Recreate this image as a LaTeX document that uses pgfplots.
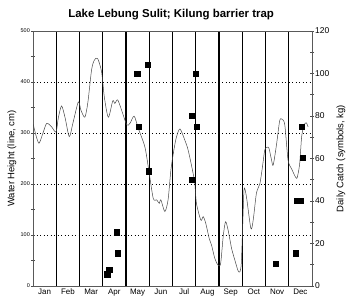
\documentclass[border=0pt]{standalone}
\usepackage{fontspec}
\setmainfont{Liberation Sans}
\usepackage{pgfplots}
\pgfplotsset{compat=1.18}
\begin{document}
\begin{tikzpicture}
\path[use as bounding box] (-33bp,-16bp) rectangle (317bp,286bp);
\begin{axis}[
  at={(0,0)}, anchor=south west,
  scale only axis, width=279bp, height=255bp,
  xmin=0, xmax=12, ymin=0, ymax=500,
  /pgf/number format/assume math mode=true,
  axis line style={gray!70!black, line width=0.5bp},
  xtick={0.5,1.5,...,11.5},
  xticklabels={Jan,Feb,Mar,Apr,May,Jun,Jul,Aug,Sep,Oct,Nov,Dec},
  minor xtick={1,2,...,11},
  xtick style={draw=none},
  xminorgrids=true,
  minor x grid style={black, line width=1.1bp},
  xticklabel style={font=\fontsize{8}{9}\selectfont, inner sep=1bp},
  ytick={0,100,...,500},
  minor ytick={50,150,...,450},
  ytick pos=left,
  tick align=center,
  major tick length=4bp, minor tick length=4bp,
  ytick style={gray!60!black, line width=0.5bp},
  ymajorgrids=true,
  major y grid style={black, line width=0.8bp, dash pattern=on 1.2bp off 2.3bp},
  yticklabel style={font=\fontsize{5.5}{6}\selectfont, inner sep=1bp},
  ylabel={Water Height (line, cm)},
  ylabel style={font=\fontsize{9.5}{10}\selectfont, at={(rel axis cs:0,0.5)}, anchor=center, rotate=0, yshift=21bp},
  title={Lake Lebung Sulit; Kilung barrier trap},
  title style={font=\bfseries\fontsize{11.5}{12}\selectfont, at={(rel axis cs:0.495,1)}, anchor=center, yshift=10bp},
]
\addplot[gray!55!black, line width=0.5bp, smooth, tension=0.45] coordinates {
(0.01,317)(0.13,295)(0.26,280)(0.43,300)(0.59,319)(0.80,312)(0.99,302)(1.09,330)(1.23,353)(1.38,330)(1.56,293)(1.72,320)(1.95,361)(2.06,345)(2.23,331)(2.36,360)(2.52,424)(2.64,443)(2.78,446)(2.95,420)(3.07,370)(3.24,331)(3.43,363)(3.52,358)(3.64,365)(3.81,345)(4.03,316)(4.17,319)(4.35,333)(4.53,309)(4.81,273)(4.97,230)(5.17,172)(5.32,169)(5.43,162)(5.50,169)(5.67,146)(5.81,169)(5.93,227)(6.06,267)(6.17,292)(6.32,308)(6.53,286)(6.67,267)(6.86,227)(6.96,201)(7.03,162)(7.22,129)(7.32,136)(7.43,123)(7.58,93)(7.68,80)(7.82,54)(7.96,41)(8.07,44)(8.18,97)(8.28,126)(8.39,110)(8.54,74)(8.68,51)(8.82,30)(8.90,28)(8.96,45)(9.02,120)(9.08,190)(9.18,175)(9.37,113)(9.47,129)(9.61,182)(9.76,201)(9.87,234)(9.97,267)(10.07,272)(10.15,270)(10.26,247)(10.33,237)(10.47,276)(10.61,324)(10.71,327)(10.83,316)(10.97,247)(11.12,230)(11.33,211)(11.41,222)(11.47,240)(11.51,265)(11.56,295)(11.66,316)(11.76,320)(11.83,312)
};
\end{axis}
\begin{axis}[
  at={(0,0)}, anchor=south west,
  scale only axis, width=279bp, height=255bp,
  xmin=0, xmax=12, ymin=0, ymax=120,
  /pgf/number format/assume math mode=true,
  axis x line=none,
  axis y line*=right,
  axis line style={gray!70!black, line width=0.5bp},
  ytick={0,20,...,120},
  minor ytick={10,30,...,110},
  tick align=center,
  major tick length=4bp, minor tick length=4bp,
  ytick style={gray!60!black, line width=0.5bp},
  yticklabel style={font=\fontsize{8.5}{9}\selectfont, inner sep=1bp},
  ylabel={Daily Catch (symbols, kg)},
  ylabel style={font=\fontsize{9.5}{10}\selectfont, at={(rel axis cs:1,0.5)}, anchor=center, rotate=0, yshift=-29bp},
]
\addplot[only marks, mark=square*, mark size=2.6bp, black] coordinates {
(3.19,5.6)(3.28,7.5)(3.60,25.3)(3.64,15.4)(4.48,100)(4.53,75)(4.93,104)(4.99,54)(6.82,80)(6.82,50)(6.99,100)(7.03,75)(10.44,10.4)(11.30,15.4)(11.35,40)(11.44,40)(11.53,40)(11.56,75)(11.60,60.5)
};
\end{axis}
\end{tikzpicture}
\end{document}
